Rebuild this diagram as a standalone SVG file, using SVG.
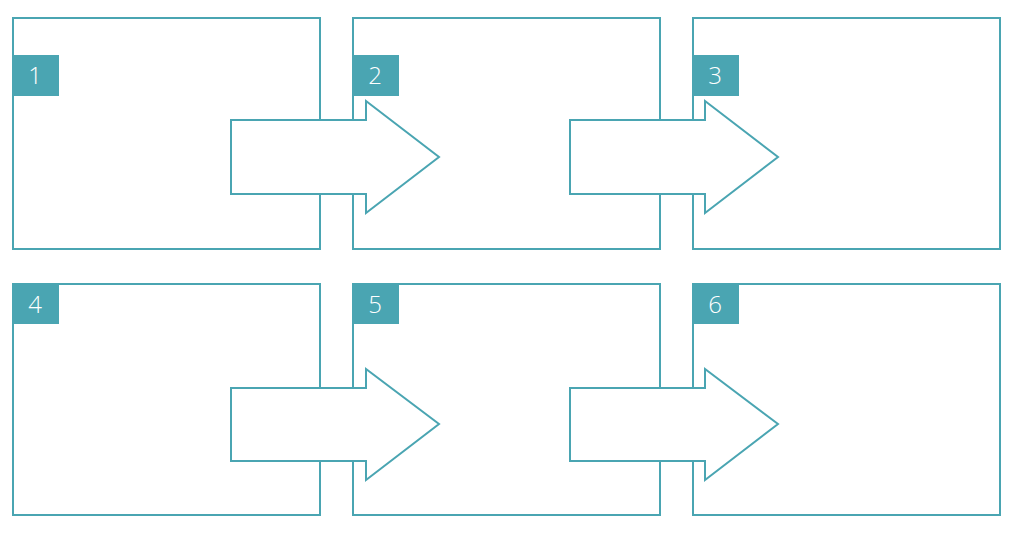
<svg xmlns="http://www.w3.org/2000/svg" width="1024" height="536" viewBox="0 0 1024 536">
<style>
.box{fill:#fff;stroke:#4aa5b2;stroke-width:2}
.tag{fill:#4aa5b2}
.num{fill:#fff;font-family:"Open Sans","Liberation Sans",sans-serif;font-size:24px;font-weight:300;text-anchor:middle}
.arr{fill:#fff;stroke:#4aa5b2;stroke-width:2;stroke-linejoin:miter}
</style>
<rect width="1024" height="536" fill="#fff"/>
<g id="n1"><rect class="box" x="13" y="18" width="307" height="231"/><rect class="tag" x="12" y="55" width="47" height="41"/><text class="num" x="35" y="84">1</text></g>
<g id="n2"><rect class="box" x="353" y="18" width="307" height="231"/><rect class="tag" x="352" y="55" width="47" height="41"/><text class="num" x="375" y="84">2</text></g>
<g id="n3"><rect class="box" x="693" y="18" width="307" height="231"/><rect class="tag" x="692" y="55" width="47" height="41"/><text class="num" x="715" y="84">3</text></g>
<g id="n4"><rect class="box" x="13" y="284" width="307" height="231"/><rect class="tag" x="12" y="283" width="47" height="41"/><text class="num" x="35" y="313">4</text></g>
<g id="n5"><rect class="box" x="353" y="284" width="307" height="231"/><rect class="tag" x="352" y="283" width="47" height="41"/><text class="num" x="375" y="313">5</text></g>
<g id="n6"><rect class="box" x="693" y="284" width="307" height="231"/><rect class="tag" x="692" y="283" width="47" height="41"/><text class="num" x="715" y="313">6</text></g>
<g id="connectors">
<path class="arr" d="M231,120 H366 V101 L439,157 L366,213 V194 H231 Z"/>
<path class="arr" d="M570,120 H705 V101 L778,157 L705,213 V194 H570 Z"/>
<path class="arr" d="M231,388 H366 V369 L439,424 L366,480 V461 H231 Z"/>
<path class="arr" d="M570,388 H705 V369 L778,424 L705,480 V461 H570 Z"/>
</g>
</svg>
